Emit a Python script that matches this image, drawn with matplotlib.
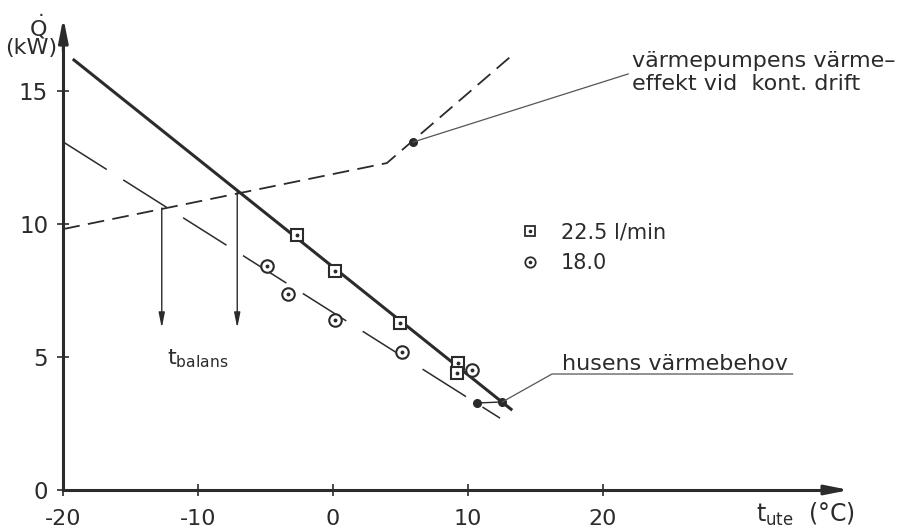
import matplotlib
matplotlib.use("Agg")
import matplotlib.pyplot as plt
from matplotlib.legend_handler import HandlerTuple
from matplotlib.lines import Line2D

plt.rcParams['font.family'] = ['DejaVu Sans']
plt.rcParams['mathtext.fontset'] = 'dejavusans'
plt.rcParams['lines.scale_dashes'] = False
plt.rcParams['axes.unicode_minus'] = False

# ---------------- data ----------------
# measured points, flow 22.5 l/min (squares)
sq_t = [-2.7, 0.15, 4.98, 9.29, 9.2]
sq_q = [9.59, 8.23, 6.28, 4.77, 4.40]
# measured points, flow 18.0 (circles)
ci_t = [-4.9, -3.35, 0.15, 5.13, 10.33]
ci_q = [8.42, 7.37, 6.39, 5.19, 4.51]
# heat demand line for 22.5 l/min (thick solid)
dem1_t = [-19.3, 13.3]
dem1_q = [16.2, 3.0]
# heat demand line for 18.0 (thin long dashes)
dem2_t = [-20.0, 12.4]
dem2_q = [13.08, 2.7]
# heat pump capacity, continuous operation (dashed polyline)
hp_t = [-20.0, 4.0, 13.15]
hp_q = [9.81, 12.29, 16.28]
# marked points
hp_dot_t, hp_dot_q = [5.95], [13.08]
end_dots_t = [10.7, 12.56]
end_dots_q = [3.27, 3.31]
# balance temperatures
bal_t = [-12.7, -7.1]
bal_q_top = [10.6, 11.2]
bal_q_bottom = [6.09, 6.09]

xticks = [-20, -10, 0, 10, 20]
yticks = [0, 5, 10, 15]
legend_labels = ['22.5 l/min', '18.0']
label_hp = ['värmepumpens värme–', 'effekt vid  kont. drift']
label_dem = 'husens värmebehov'

C = '#2b2b2b'
CL = '#555555'

fig = plt.figure(figsize=(8.98, 5.32), dpi=100)
ax = fig.add_axes([0, 0, 1, 1])
ax.set_xlim(-24.70, 41.92)
ax.set_ylim(-1.579, 18.42)

# axes as spines through the origin
for s in ['top', 'right']:
    ax.spines[s].set_visible(False)
ax.spines['left'].set_position(('data', -20))
ax.spines['bottom'].set_position(('data', 0))
ax.spines['left'].set_bounds(0, 17.0)
ax.spines['bottom'].set_bounds(-20, 37.5)
for s in ['left', 'bottom']:
    ax.spines[s].set_linewidth(2.2)
    ax.spines[s].set_color(C)
ax.set_xticks(xticks)
ax.set_yticks(yticks)
ax.tick_params(axis='x', direction='inout', length=8, width=1.2, color=C,
               labelsize=16, labelcolor=C, pad=9.5)
ax.tick_params(axis='y', direction='inout', length=8, width=1.2, color=C,
               labelsize=16.5, labelcolor=C, pad=7)
# axis arrowheads
ax.annotate('', xy=(-20, 17.75), xytext=(-20, 16.5),
            arrowprops=dict(arrowstyle='-|>,head_length=1.4,head_width=0.28',
                            lw=2.2, color=C, shrinkA=0, shrinkB=0))
ax.annotate('', xy=(38.3, 0), xytext=(36.5, 0),
            arrowprops=dict(arrowstyle='-|>,head_length=1.4,head_width=0.28',
                            lw=2.2, color=C, shrinkA=0, shrinkB=0))

# axis titles
ax.text(-21.9, 17.42, r'$\dot{\mathrm{Q}}$', fontsize=16, color=C, ha='center', va='center')
ax.text(-22.4, 16.6, '(kW)', fontsize=16, color=C, ha='center', va='center')
ax.text(31.4, -0.9, r'$\mathrm{t_{ute}}$  (°C)', fontsize=17, color=C, ha='left', va='center')

# lines
ax.plot(dem1_t, dem1_q, color=C, lw=2.2, solid_capstyle='butt')
ax.plot(dem2_t, dem2_q, color=C, lw=1.1, dashes=(37, 14))
ax.plot(hp_t, hp_q, color=C, lw=1.3, dashes=(12, 6))

# markers
ax.plot(sq_t, sq_q, ls='none', marker='s', ms=9, mfc='white', mec=C, mew=1.5)
ax.plot(sq_t, sq_q, ls='none', marker='o', ms=1.8, color=C)
ax.plot(ci_t, ci_q, ls='none', marker='o', ms=9, mfc='white', mec=C, mew=1.5)
ax.plot(ci_t, ci_q, ls='none', marker='o', ms=1.8, color=C)
ax.plot(end_dots_t, end_dots_q, color=C, lw=1.0, marker='o', ms=5.5)
ax.plot(hp_dot_t, hp_dot_q, ls='none', marker='o', ms=5.5, color=C)

# balance arrows
for t, q0, q1 in zip(bal_t, bal_q_top, bal_q_bottom):
    ax.annotate('', xy=(t, q1), xytext=(t, q0),
                arrowprops=dict(arrowstyle='-|>,head_length=0.9,head_width=0.18',
                                lw=1.0, color=C, shrinkA=0, shrinkB=0))
ax.text(-12.3, 4.95, r'$\mathrm{t_{balans}}$', fontsize=16, color=C, ha='left', va='center')

# leader lines and labels
ax.plot([hp_dot_t[0], 21.9], [hp_dot_q[0], 15.64], color=CL, lw=0.9)
ax.text(22.15, 15.92, label_hp[0], fontsize=16, color=C, ha='left', va='baseline')
ax.text(22.15, 15.05, label_hp[1], fontsize=16, color=C, ha='left', va='baseline')

ax.plot([end_dots_t[1], 16.25, 34.1], [end_dots_q[1], 4.36, 4.36], color=CL, lw=0.9)
ax.text(17.0, 4.52, label_dem, fontsize=16, color=C, ha='left', va='baseline')

# legend
h_sq = (Line2D([], [], ls='none', marker='s', ms=7.5, mfc='white', mec=C, mew=1.3),
        Line2D([], [], ls='none', marker='o', ms=1.6, color=C))
h_ci = (Line2D([], [], ls='none', marker='o', ms=7.5, mfc='white', mec=C, mew=1.3),
        Line2D([], [], ls='none', marker='o', ms=1.6, color=C))
leg = ax.legend([h_sq, h_ci], legend_labels, handler_map={tuple: HandlerTuple(ndivide=1)},
                frameon=False, fontsize=15, loc='upper left',
                bbox_to_anchor=(507 / 898, 1 - 212 / 532), handlelength=1.2,
                handletextpad=0.9, labelspacing=0.5, borderpad=0)
for txt in leg.get_texts():
    txt.set_color(C)

fig.savefig('out.png', dpi=100, facecolor='white')
